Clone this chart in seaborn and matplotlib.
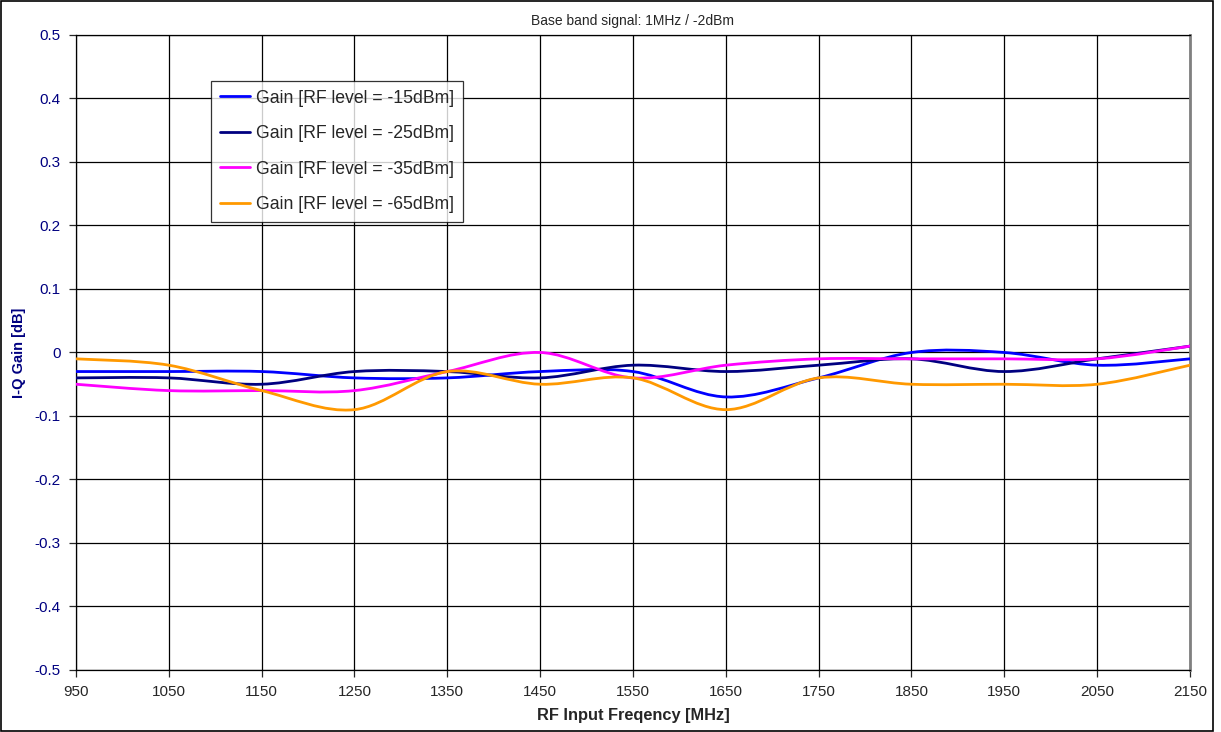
import numpy as np
import seaborn as sns
import matplotlib
matplotlib.use('Agg')
import matplotlib.pyplot as plt
from matplotlib.path import Path
from matplotlib.patches import PathPatch, Rectangle
from matplotlib.lines import Line2D

# Data (one point every 100 MHz)
freq = [950, 1050, 1150, 1250, 1350, 1450, 1550, 1650, 1750, 1850, 1950, 2050, 2150]
gain_15 = [-0.03, -0.03, -0.03, -0.04, -0.04, -0.03, -0.03, -0.07, -0.04, 0.00, 0.00, -0.02, -0.01]
gain_25 = [-0.04, -0.04, -0.05, -0.03, -0.03, -0.04, -0.02, -0.03, -0.02, -0.01, -0.03, -0.01, 0.01]
gain_35 = [-0.05, -0.06, -0.06, -0.06, -0.03, 0.00, -0.04, -0.02, -0.01, -0.01, -0.01, -0.01, 0.01]
gain_65 = [-0.01, -0.02, -0.06, -0.09, -0.03, -0.05, -0.04, -0.09, -0.04, -0.05, -0.05, -0.05, -0.02]

labels = ['Gain [RF level = -15dBm]', 'Gain [RF level = -25dBm]',
          'Gain [RF level = -35dBm]', 'Gain [RF level = -65dBm]']
colors = ['#0000FF', '#000080', '#FF00FF', '#FF9900']

x_ticks = [950, 1050, 1150, 1250, 1350, 1450, 1550, 1650, 1750, 1850, 1950, 2050, 2150]
y_ticks = [-0.5, -0.4, -0.3, -0.2, -0.1, 0, 0.1, 0.2, 0.3, 0.4, 0.5]
y_tick_labels = ['-0.5', '-0.4', '-0.3', '-0.2', '-0.1', '0', '0.1', '0.2', '0.3', '0.4', '0.5']

sns.set_style('white')
plt.rcParams['font.family'] = ['Liberation Sans', 'DejaVu Sans']


def smooth_path(xs, ys):
    # Excel style smoothed line: cubic Bezier segments through the points
    p = np.column_stack([xs, ys]).astype(float)
    n = len(p)
    verts = [p[0]]
    codes = [Path.MOVETO]
    for i in range(n - 1):
        p0 = p[i - 1] if i > 0 else p[i]
        p1 = p[i]
        p2 = p[i + 1]
        p3 = p[i + 2] if i + 2 < n else p[i + 1]
        c1 = p1 + (p2 - p0) / 6.0
        c2 = p2 - (p3 - p1) / 6.0
        verts += [c1, c2, p2]
        codes += [Path.CURVE4] * 3
    return Path(verts, codes)


fig = plt.figure(figsize=(12.21, 7.32), dpi=100)
ax = fig.add_axes([0.0622, 0.0847, 0.9124, 0.8675])

series = [gain_15, gain_25, gain_35, gain_65]
handles = []
for ys, c, lab in zip(series, colors, labels):
    ax.add_patch(PathPatch(smooth_path(freq, ys), facecolor='none', edgecolor=c,
                           lw=2.0, zorder=3, capstyle='round'))
    handles.append(Line2D([], [], color=c, lw=2.0, label=lab))

ax.set_xlim(950, 2150)
ax.set_ylim(-0.5, 0.5)
ax.set_xticks(x_ticks)
ax.set_xticklabels([str(v) for v in x_ticks])
ax.set_yticks(y_ticks)
ax.set_yticklabels(y_tick_labels)
ax.grid(True, color='black', lw=0.9)
ax.set_axisbelow(True)
ax.tick_params(axis='both', direction='out', length=5, width=0.9, labelsize=11, pad=6,
               bottom=True, left=True)
ax.tick_params(axis='y', labelcolor='#000080')
for s in ax.spines.values():
    s.set_color('black')
    s.set_linewidth(0.9)
ax.spines['right'].set_color('#808080')
ax.spines['right'].set_linewidth(2)

ax.set_xlabel('RF Input Freqency [MHz]', fontsize=11.8, fontweight='bold', labelpad=6)
ax.set_ylabel('I-Q Gain [dB]', fontsize=10.5, fontweight='bold', color='#000080', labelpad=6)
ax.set_title('Base band signal: 1MHz / -2dBm', fontsize=10, pad=7)

leg = ax.legend(handles=handles, loc='upper left', bbox_to_anchor=(0.121, 0.928),
                borderaxespad=0, fontsize=12.7, frameon=True, fancybox=False,
                handlelength=1.75, handletextpad=0.3, labelspacing=1.05,
                borderpad=0.5)
leg.get_frame().set_edgecolor('black')
leg.get_frame().set_linewidth(0.9)

fig.patches.append(Rectangle((0.001, 0.001), 0.9925, 0.997, transform=fig.transFigure,
                             fill=False, edgecolor='black', lw=1.2))

fig.savefig('out.png', dpi=100)
